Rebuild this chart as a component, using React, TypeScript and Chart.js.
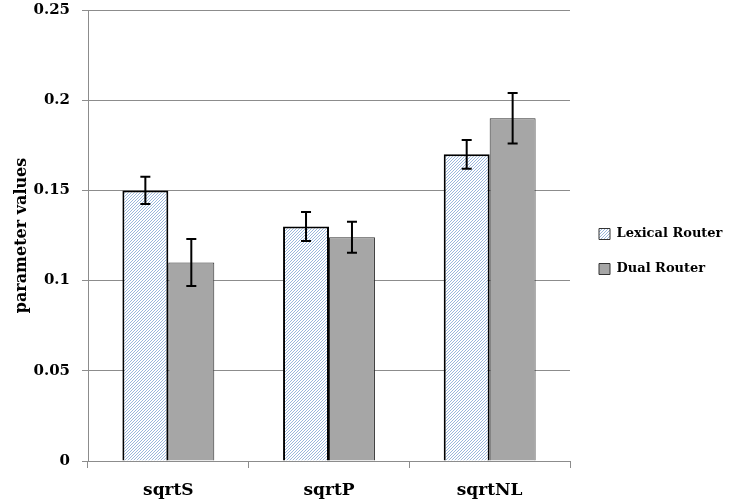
import React, { useEffect, useRef } from "react";
import { Chart, registerables } from "chart.js";

Chart.register(...registerables);

const categories = ["sqrtS", "sqrtP", "sqrtNL"];
const seriesNames = ["Lexical Router", "Dual Router"];
const lexicalValues = [0.15, 0.13, 0.17];
const dualValues = [0.11, 0.124, 0.19];
const lexicalErrors = [0.0075, 0.008, 0.008];
const dualErrors = [0.013, 0.0086, 0.014];
const yTickValues = [0, 0.05, 0.1, 0.15, 0.2, 0.25];
const yTitle = "parameter values";

const FONT = "'DejaVu Serif', 'Liberation Serif', serif";

function makeHatch(): CanvasPattern | string {
  const c = document.createElement("canvas");
  c.width = 3;
  c.height = 3;
  const g = c.getContext("2d");
  if (!g) return "#dbe5f1";
  g.fillStyle = "#ffffff";
  g.fillRect(0, 0, 3, 3);
  g.strokeStyle = "#8fafd8";
  g.lineWidth = 0.9;
  g.beginPath();
  g.moveTo(-1, 4);
  g.lineTo(4, -1);
  g.moveTo(-1, 1);
  g.lineTo(1, -1);
  g.moveTo(2, 4);
  g.lineTo(4, 2);
  g.stroke();
  const p = g.createPattern(c, "repeat");
  return p || "#dbe5f1";
}

const errorBarPlugin = {
  id: "errorBars",
  afterDatasetsDraw(chart: any) {
    const ctx = chart.ctx;
    const yScale = chart.scales.y;
    chart.data.datasets.forEach((ds: any, di: number) => {
      const meta = chart.getDatasetMeta(di);
      if (meta.hidden) return;
      meta.data.forEach((bar: any, i: number) => {
        const v = ds.data[i];
        const e = ds.errors[i];
        const yTop = yScale.getPixelForValue(v + e);
        const yBot = yScale.getPixelForValue(v - e);
        const x = bar.x;
        ctx.save();
        ctx.strokeStyle = "#000";
        ctx.lineWidth = 2;
        ctx.beginPath();
        ctx.moveTo(x, yTop);
        ctx.lineTo(x, yBot);
        ctx.moveTo(x - 5, yTop);
        ctx.lineTo(x + 5, yTop);
        ctx.moveTo(x - 5, yBot);
        ctx.lineTo(x + 5, yBot);
        ctx.stroke();
        ctx.restore();
      });
    });
  },
};

export default function App() {
  const ref = useRef<HTMLCanvasElement | null>(null);

  useEffect(() => {
    if (!ref.current) return;
    const hatch = makeHatch();
    const chart = new Chart(ref.current, {
      type: "bar",
      data: {
        labels: categories,
        datasets: [
          {
            label: seriesNames[0],
            data: lexicalValues,
            errors: lexicalErrors,
            backgroundColor: hatch,
            borderColor: "#000000",
            borderWidth: 2,
            categoryPercentage: 0.572,
            barPercentage: 1,
          } as any,
          {
            label: seriesNames[1],
            data: dualValues,
            errors: dualErrors,
            backgroundColor: "#a6a6a6",
            borderColor: "#2e2e2e",
            borderWidth: 1,
            categoryPercentage: 0.572,
            barPercentage: 1,
          } as any,
        ],
      },
      options: {
        responsive: false,
        animation: false,
        layout: { padding: { top: 0, right: 0, bottom: 0, left: 0 } },
        plugins: {
          tooltip: { enabled: false },
          legend: {
            position: "right",
            align: "center",
            maxWidth: 300,
            labels: {
              boxWidth: 11,
              boxHeight: 11,
              padding: 22,
              color: "#000",
              font: { family: FONT, size: 13, weight: "bold" },
              generateLabels: (ch: any) =>
                (Chart as any).defaults.plugins.legend.labels
                  .generateLabels(ch)
                  .map((l: any) => ({ ...l, lineWidth: 1, strokeStyle: "#333" })),
            },
          },
        },
        scales: {
          x: {
            offset: true,
            grid: {
              offset: true,
              drawOnChartArea: false,
              drawTicks: true,
              tickLength: 7,
              color: "#8c8c8c",
            },
            border: { display: true, color: "#8c8c8c" },
            ticks: {
              color: "#000",
              padding: 12,
              font: { family: FONT, size: 17, weight: "bold" },
            },
            afterFit: (s: any) => {
              s.height = 42;
            },
          },
          y: {
            min: 0,
            max: 0.25,
            afterBuildTicks: (s: any) => {
              s.ticks = yTickValues.map((v) => ({ value: v }));
            },
            ticks: {
              color: "#000",
              padding: 12,
              font: { family: FONT, size: 15, weight: "bold" },
              callback: (v: any) => String(Number(Number(v).toFixed(2))),
            },
            grid: { color: "#8c8c8c", tickLength: 6 },
            border: { display: true, color: "#8c8c8c" },
            title: {
              display: true,
              text: yTitle,
              color: "#000",
              padding: { top: 12, bottom: 4 },
              font: { family: FONT, size: 16, weight: "bold" },
            },
            afterFit: (s: any) => {
              s.width = 88;
              s.paddingTop = 10;
            },
          },
          pad: {
            type: "linear",
            position: "right",
            display: true,
            ticks: { display: false },
            grid: { display: false },
            border: { display: false },
            afterFit: (s: any) => {
              s.width = 7;
              s.paddingTop = 0;
              s.paddingBottom = 0;
            },
          },
        },
      } as any,
      plugins: [errorBarPlugin],
    });
    // align plot right edge at x=570: pad axis + legend occupy the rest
    const lw = (chart as any).legend ? (chart as any).legend.width : 0;
    const padR = Math.max(0, 750 - 570 - 7 - lw);
    (chart.options as any).layout.padding.right = padR;
    chart.update();
    return () => chart.destroy();
  }, []);

  return (
    <div style={{ position: "absolute", left: 0, top: 0, width: 750, height: 503, background: "#fff" }}>
      <canvas ref={ref} width={750} height={503} />
    </div>
  );
}
